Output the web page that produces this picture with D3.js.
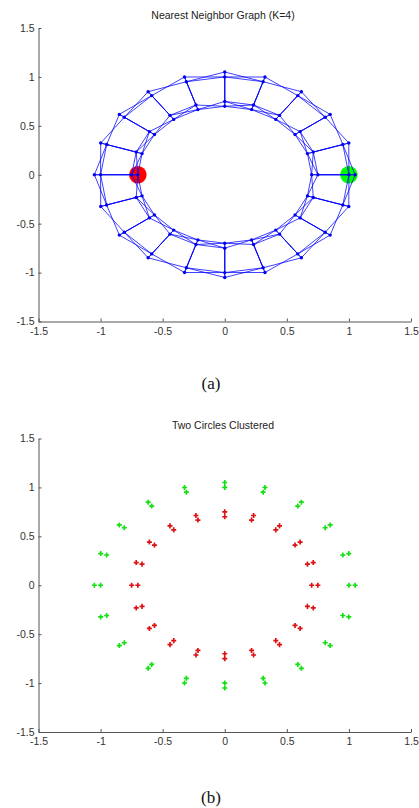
<!DOCTYPE html>
<html>
<head>
<meta charset="utf-8">
<script src="https://cdn.jsdelivr.net/npm/d3@7"></script>
<style>
  body { margin: 0; background: #fff; }
  text { font-family: "Liberation Sans", Arial, sans-serif; }
</style>
</head>
<body>
<script>

// Outer circle points (r = 1.0 then r = 1.05, every 18 degrees)
var outerX = [1.000, 0.951, 0.809, 0.588, 0.309, 0.000, -0.309, -0.588, -0.809, -0.951,
              -1.000, -0.951, -0.809, -0.588, -0.309, 0.000, 0.309, 0.588, 0.809, 0.951,
              1.050, 0.999, 0.849, 0.617, 0.324, 0.000, -0.324, -0.617, -0.849, -0.999,
              -1.050, -0.999, -0.849, -0.617, -0.324, 0.000, 0.324, 0.617, 0.849, 0.999];
var outerY = [0.000, 0.309, 0.588, 0.809, 0.951, 1.000, 0.951, 0.809, 0.588, 0.309,
              0.000, -0.309, -0.588, -0.809, -0.951, -1.000, -0.951, -0.809, -0.588, -0.309,
              0.000, 0.324, 0.617, 0.849, 0.999, 1.050, 0.999, 0.849, 0.617, 0.324,
              0.000, -0.324, -0.617, -0.849, -0.999, -1.050, -0.999, -0.849, -0.617, -0.324];

// Inner circle points (r = 0.7 then r = 0.75)
var innerX = [0.700, 0.666, 0.566, 0.411, 0.216, 0.000, -0.216, -0.411, -0.566, -0.666,
              -0.700, -0.666, -0.566, -0.411, -0.216, 0.000, 0.216, 0.411, 0.566, 0.666,
              0.750, 0.713, 0.607, 0.441, 0.232, 0.000, -0.232, -0.441, -0.607, -0.713,
              -0.750, -0.713, -0.607, -0.441, -0.232, 0.000, 0.232, 0.441, 0.607, 0.713];
var innerY = [0.000, 0.216, 0.411, 0.566, 0.666, 0.700, 0.666, 0.566, 0.411, 0.216,
              0.000, -0.216, -0.411, -0.566, -0.666, -0.700, -0.666, -0.566, -0.411, -0.216,
              0.000, 0.232, 0.441, 0.607, 0.713, 0.750, 0.713, 0.607, 0.441, 0.232,
              0.000, -0.232, -0.441, -0.607, -0.713, -0.750, -0.713, -0.607, -0.441, -0.232];

// Highlighted points on the graph
var markX = [-0.7, 1.0];
var markY = [0, 0];
var markColor = ["#ff0000", "#00ff00"];

// Neighbours per point
var K = 4;

// Axis ticks
var ticks = [-1.5, -1, -0.5, 0, 0.5, 1, 1.5];
var tickLabels = ["-1.5", "-1", "-0.5", "0", "0.5", "1", "1.5"];

var titles = ["Nearest Neighbor Graph (K=4)", "Two Circles Clustered"];
var captions = ["(a)", "(b)"];

/*
  SETUP
*/

var svg = d3.select("body").append("svg")
    .attr("width", 419)
    .attr("height", 808);

var x = d3.scaleLinear().domain([-1.5, 1.5]).range([38.5, 411]);
var yTop = d3.scaleLinear().domain([-1.5, 1.5]).range([321.5, 28]);
var yBot = d3.scaleLinear().domain([-1.5, 1.5]).range([732, 438.5]);

// All points together, inner first
var pts = [];
innerX.forEach(function(v, i) { pts.push({x: v, y: innerY[i], group: "inner"}); });
outerX.forEach(function(v, i) { pts.push({x: v, y: outerY[i], group: "outer"}); });

function drawAxes(y, title, titleY, caption, captionY) {
  var fmt = function(d) { return tickLabels[ticks.indexOf(d)]; };

  var ax = svg.append("g")
      .attr("transform", "translate(" + x.range()[0] + ",0)")
      .call(d3.axisLeft(y).tickValues(ticks).tickFormat(fmt)
        .tickSizeInner(-3).tickSizeOuter(0).tickPadding(4));
  var bx = svg.append("g")
      .attr("transform", "translate(0," + y.range()[0] + ")")
      .call(d3.axisBottom(x).tickValues(ticks).tickFormat(fmt)
        .tickSizeInner(-3).tickSizeOuter(0).tickPadding(6));

  [ax, bx].forEach(function(g) {
    g.selectAll("path, line").attr("stroke", "#555");
    g.selectAll("text")
        .style("font-family", "'Liberation Sans', Arial, sans-serif")
        .style("font-size", "10.5px")
        .attr("fill", "#333");
  });

  svg.append("text")
      .attr("x", 223)
      .attr("y", titleY)
      .style("text-anchor", "middle")
      .style("font-size", "10.5px")
      .attr("fill", "#222")
      .text(title);

  svg.append("text")
      .attr("x", 211)
      .attr("y", captionY)
      .style("text-anchor", "middle")
      .style("font-family", "'Liberation Serif', 'Times New Roman', serif")
      .style("font-size", "17px")
      .attr("fill", "#111")
      .text(caption);
}

/*
  (a) NEAREST NEIGHBOR GRAPH
*/

drawAxes(yTop, titles[0], 18.5, captions[0], 388.5);

// k nearest neighbours, made symmetric
var edges = {};
pts.forEach(function(p, i) {
  var d = pts.map(function(q, j) {
    return {j: j, d: (p.x - q.x) * (p.x - q.x) + (p.y - q.y) * (p.y - q.y)};
  }).filter(function(o) { return o.j !== i; });
  d.sort(function(a, b) { return a.d - b.d || a.j - b.j; });
  for (var n = 0; n < K; n++) {
    var a = Math.min(i, d[n].j), b = Math.max(i, d[n].j);
    edges[a + "-" + b] = [a, b];
  }
});
var edgeList = Object.keys(edges).map(function(k) { return edges[k]; });

svg.append("g").selectAll("circle")
    .data(markX)
    .enter().append("circle")
    .attr("cx", function(d) { return x(d); })
    .attr("cy", function(d, i) { return yTop(markY[i]); })
    .attr("r", 8.8)
    .attr("fill", function(d, i) { return markColor[i]; });

svg.append("g").selectAll("line")
    .data(edgeList)
    .enter().append("line")
    .attr("x1", function(e) { return x(pts[e[0]].x); })
    .attr("y1", function(e) { return yTop(pts[e[0]].y); })
    .attr("x2", function(e) { return x(pts[e[1]].x); })
    .attr("y2", function(e) { return yTop(pts[e[1]].y); })
    .attr("stroke", "#0000ff")
    .attr("stroke-opacity", 0.75)
    .attr("stroke-width", 1);

svg.append("g").selectAll("circle")
    .data(pts)
    .enter().append("circle")
    .attr("cx", function(p) { return x(p.x); })
    .attr("cy", function(p) { return yTop(p.y); })
    .attr("r", 1.7)
    .attr("fill", "#0000ee");

/*
  (b) TWO CIRCLES CLUSTERED
*/

drawAxes(yBot, titles[1], 429, captions[1], 803);

var cross = d3.symbol().type(d3.symbolCross).size(14);

svg.append("g").selectAll("path")
    .data(pts)
    .enter().append("path")
    .attr("d", cross)
    .attr("transform", function(p) { return "translate(" + x(p.x) + "," + yBot(p.y) + ")"; })
    .attr("fill", function(p) { return p.group === "inner" ? "#dd1111" : "#11e011"; });

</script>
</body>
</html>
